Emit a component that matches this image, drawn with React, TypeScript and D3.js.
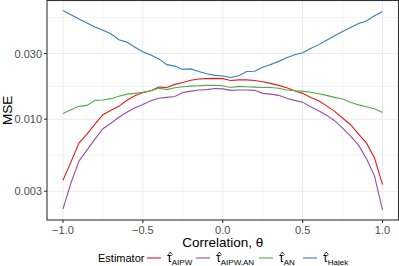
import React from "react";
import { scaleLinear, scaleLog, line, extent, format, range } from "d3";

// correlation grid, -1 to 1 by 0.05
const theta = range(41).map((i) => Math.round((-1 + i * 0.05) * 100) / 100);

const aipw = [
  0.0036, 0.00488, 0.0067, 0.00779, 0.0092, 0.01078, 0.01162, 0.0124, 0.01373, 0.0148,
  0.0156, 0.0161, 0.0171, 0.017, 0.0179, 0.0185, 0.0192, 0.0196, 0.0197, 0.0198,
  0.0197, 0.0191, 0.0193, 0.0193, 0.0191, 0.0187, 0.0182, 0.0176, 0.0169, 0.0161,
  0.0154, 0.0144, 0.0136, 0.0125, 0.0114, 0.0102, 0.00912, 0.00779, 0.0067, 0.00522,
  0.00335,
];
const aipwAN = [
  0.00222, 0.00344, 0.00496, 0.00596, 0.00716, 0.00853, 0.00935, 0.01034, 0.01124, 0.0121,
  0.0128, 0.0136, 0.0142, 0.0144, 0.0146, 0.0156, 0.016, 0.0163, 0.0164, 0.0167,
  0.0166, 0.0162, 0.0163, 0.0163, 0.0162, 0.0154, 0.0152, 0.0149, 0.0142, 0.0137,
  0.0133, 0.0123, 0.0115, 0.0107, 0.00975, 0.00861, 0.00753, 0.00648, 0.00517, 0.00386,
  0.00219,
];
const an = [
  0.011, 0.0117, 0.0124, 0.0126, 0.0137, 0.0138, 0.0141, 0.0147, 0.0152, 0.0154,
  0.0157, 0.0161, 0.0168, 0.0164, 0.0169, 0.0172, 0.0174, 0.0175, 0.0176, 0.0176,
  0.0175, 0.017, 0.0173, 0.0172, 0.0171, 0.017, 0.017, 0.0168, 0.0163, 0.0161,
  0.016, 0.0157, 0.0153, 0.0149, 0.0144, 0.014, 0.0133, 0.0127, 0.0123, 0.0119,
  0.0112,
];
const hajek = [
  0.0616, 0.0574, 0.0535, 0.05, 0.0468, 0.0442, 0.0417, 0.0378, 0.0363, 0.0333,
  0.0309, 0.0293, 0.0274, 0.0249, 0.0243, 0.023, 0.0232, 0.0222, 0.0214, 0.0208,
  0.0206, 0.0201, 0.0207, 0.0222, 0.0223, 0.0238, 0.025, 0.0263, 0.0279, 0.0294,
  0.0304, 0.0326, 0.0348, 0.0374, 0.0403, 0.0434, 0.0464, 0.0496, 0.0516, 0.0564,
  0.0606,
];

const seriesNames = ["AIPW", "AIPW,AN", "AN", "Hajek"];
const seriesValues = [aipw, aipwAN, an, hajek];
const seriesColors = ["#E41A1C", "#984EA3", "#4DAF4A", "#377EB8"];

const xTicks = [-1, -0.5, 0, 0.5, 1];
const xMinor = [-0.75, -0.25, 0.25, 0.75];
const yTicks = [0.003, 0.01, 0.03];
const yMinor = [Math.sqrt(0.003 * 0.01), Math.sqrt(0.01 * 0.03), Math.sqrt(0.03 * 0.1)];

const W = 399;
const H = 266;
const panel = { left: 47, right: 398.5, top: 0.5, bottom: 220 };
const FONT = "'Liberation Sans', Arial, Helvetica, sans-serif";

export default function App() {
  const x = scaleLinear().domain([-1.1, 1.1]).range([panel.left, panel.right]);

  const all = seriesValues.flat();
  const [lo, hi] = extent(all) as [number, number];
  const span = Math.log10(hi) - Math.log10(lo);
  const y = scaleLog()
    .domain([Math.pow(10, Math.log10(lo) - 0.05 * span), Math.pow(10, Math.log10(hi) + 0.05 * span)])
    .range([panel.bottom, panel.top]);

  const path = line<number>()
    .x((_, i) => x(theta[i]))
    .y((d) => y(d));

  const fmt = format(".3f");

  // legend layout
  const legY = 258;
  const keyStarts = [147, 196, 259, 303];
  const labelStarts = [167, 216, 279, 323];

  return (
    <svg
      width={W}
      height={H}
      style={{ position: "absolute", left: 0, top: 0, background: "#fff" }}
      fontFamily={FONT}
    >
      <rect x={panel.left} y={panel.top} width={panel.right - panel.left} height={panel.bottom - panel.top} fill="#fff" />
      {/* grid */}
      {yMinor.map((t) => (
        <line key={"ym" + t} x1={panel.left} x2={panel.right} y1={y(t)} y2={y(t)} stroke="#ebebeb" strokeWidth={0.55} />
      ))}
      {xMinor.map((t) => (
        <line key={"xm" + t} x1={x(t)} x2={x(t)} y1={panel.top} y2={panel.bottom} stroke="#ebebeb" strokeWidth={0.55} />
      ))}
      {yTicks.map((t) => (
        <line key={"yg" + t} x1={panel.left} x2={panel.right} y1={y(t)} y2={y(t)} stroke="#ebebeb" strokeWidth={1.1} />
      ))}
      {xTicks.map((t) => (
        <line key={"xg" + t} x1={x(t)} x2={x(t)} y1={panel.top} y2={panel.bottom} stroke="#ebebeb" strokeWidth={1.1} />
      ))}

      {/* lines */}
      <g clipPath="url(#clip)">
        {seriesValues.map((vals, i) => (
          <path key={seriesNames[i]} d={path(vals) || ""} fill="none" stroke={seriesColors[i]} strokeWidth={1.1} />
        ))}
      </g>

      <rect
        x={panel.left}
        y={panel.top}
        width={panel.right - panel.left}
        height={panel.bottom - panel.top}
        fill="none"
        stroke="#333333"
        strokeWidth={1.1}
      />

      {/* x axis */}
      {xTicks.map((t) => (
        <g key={"xt" + t}>
          <line x1={x(t)} x2={x(t)} y1={panel.bottom} y2={panel.bottom + 3} stroke="#333333" strokeWidth={1.1} />
          <text x={x(t)} y={panel.bottom + 14} textAnchor="middle" fontSize={11} fill="#4d4d4d">
            {t === 0 ? "0.0" : format(".1f")(t).replace("-", "\u2212")}
          </text>
        </g>
      ))}
      {/* y axis */}
      {yTicks.map((t) => (
        <g key={"yt" + t}>
          <line x1={panel.left - 3} x2={panel.left} y1={y(t)} y2={y(t)} stroke="#333333" strokeWidth={1.1} />
          <text x={panel.left - 5} y={y(t) + 4} textAnchor="end" fontSize={11} fill="#4d4d4d">
            {fmt(t)}
          </text>
        </g>
      ))}

      <text x={(panel.left + panel.right) / 2} y={247} textAnchor="middle" fontSize={13.5} fill="#000">
        Correlation, θ
      </text>
      <text
        transform={`translate(12, ${(panel.top + panel.bottom) / 2}) rotate(-90)`}
        textAnchor="middle"
        fontSize={13.5}
        fill="#000"
      >
        MSE
      </text>

      {/* legend */}
      <text x={98} y={legY + 4} fontSize={11} fill="#000">
        Estimator
      </text>
      {seriesNames.map((name, i) => (
        <g key={"leg" + name}>
          <line x1={keyStarts[i]} x2={keyStarts[i] + 14} y1={legY} y2={legY} stroke={seriesColors[i]} strokeWidth={1.1} />
          {/* hat over tau */}
          <path
            d={`M${labelStarts[i] + 1.2},${legY - 3.2} L${labelStarts[i] + 3.3},${legY - 6} L${labelStarts[i] + 5.4},${legY - 3.2}`}
            fill="none"
            stroke="#000"
            strokeWidth={0.8}
          />
          <text x={labelStarts[i]} y={legY + 4} fontSize={12} fill="#000">
            τ
            <tspan fontSize={8} dy={2.5}>
              {name}
            </tspan>
          </text>
        </g>
      ))}

      <defs>
        <clipPath id="clip">
          <rect x={panel.left} y={panel.top} width={panel.right - panel.left} height={panel.bottom - panel.top} />
        </clipPath>
      </defs>
    </svg>
  );
}
